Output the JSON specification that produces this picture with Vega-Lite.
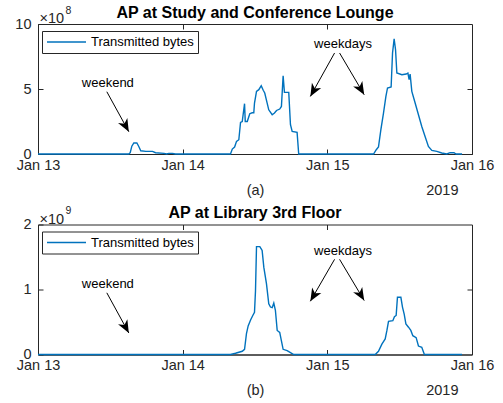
{
  "$schema": "https://vega.github.io/schema/vega-lite/v6.json",
  "padding": {"left": 14, "top": 4, "right": 5, "bottom": 5},
  "spacing": 7.5,
  "datasets": {
    "lounge": [
      {"t": "2019-01-13T00:00:00Z", "b": 0},
      {"t": "2019-01-13T15:04:00Z", "b": 0},
      {"t": "2019-01-13T15:18:00Z", "b": 10000000},
      {"t": "2019-01-13T15:34:00Z", "b": 60000000},
      {"t": "2019-01-13T15:54:00Z", "b": 85000000},
      {"t": "2019-01-13T16:24:00Z", "b": 85000000},
      {"t": "2019-01-13T16:42:00Z", "b": 60000000},
      {"t": "2019-01-13T17:03:00Z", "b": 25000000},
      {"t": "2019-01-13T17:54:00Z", "b": 20000000},
      {"t": "2019-01-13T19:00:00Z", "b": 20000000},
      {"t": "2019-01-13T19:30:00Z", "b": 10000000},
      {"t": "2019-01-13T20:54:00Z", "b": 5000000},
      {"t": "2019-01-13T21:21:00Z", "b": 0},
      {"t": "2019-01-13T21:42:00Z", "b": 5000000},
      {"t": "2019-01-13T22:18:00Z", "b": 5000000},
      {"t": "2019-01-13T22:48:00Z", "b": 0},
      {"t": "2019-01-14T07:56:00Z", "b": 0},
      {"t": "2019-01-14T08:14:00Z", "b": 38000000},
      {"t": "2019-01-14T08:37:00Z", "b": 54000000},
      {"t": "2019-01-14T08:56:00Z", "b": 97000000},
      {"t": "2019-01-14T09:19:00Z", "b": 110000000},
      {"t": "2019-01-14T09:36:00Z", "b": 243000000},
      {"t": "2019-01-14T09:53:00Z", "b": 250000000},
      {"t": "2019-01-14T10:16:00Z", "b": 387000000},
      {"t": "2019-01-14T10:23:00Z", "b": 250000000},
      {"t": "2019-01-14T10:43:00Z", "b": 250000000},
      {"t": "2019-01-14T11:08:00Z", "b": 310000000},
      {"t": "2019-01-14T11:32:00Z", "b": 317000000},
      {"t": "2019-01-14T11:48:00Z", "b": 317000000},
      {"t": "2019-01-14T11:55:00Z", "b": 392000000},
      {"t": "2019-01-14T12:15:00Z", "b": 482000000},
      {"t": "2019-01-14T12:38:00Z", "b": 495000000},
      {"t": "2019-01-14T13:02:00Z", "b": 525000000},
      {"t": "2019-01-14T13:22:00Z", "b": 490000000},
      {"t": "2019-01-14T13:37:00Z", "b": 469000000},
      {"t": "2019-01-14T14:01:00Z", "b": 392000000},
      {"t": "2019-01-14T14:17:00Z", "b": 340000000},
      {"t": "2019-01-14T14:51:00Z", "b": 302000000},
      {"t": "2019-01-14T15:14:00Z", "b": 315000000},
      {"t": "2019-01-14T15:34:00Z", "b": 335000000},
      {"t": "2019-01-14T16:06:00Z", "b": 346000000},
      {"t": "2019-01-14T16:23:00Z", "b": 366000000},
      {"t": "2019-01-14T16:40:00Z", "b": 602000000},
      {"t": "2019-01-14T16:53:00Z", "b": 474000000},
      {"t": "2019-01-14T17:36:00Z", "b": 474000000},
      {"t": "2019-01-14T17:53:00Z", "b": 225000000},
      {"t": "2019-01-14T18:10:00Z", "b": 174000000},
      {"t": "2019-01-14T18:59:00Z", "b": 166000000},
      {"t": "2019-01-14T19:15:00Z", "b": 0},
      {"t": "2019-01-15T07:40:00Z", "b": 0},
      {"t": "2019-01-15T08:07:00Z", "b": 33000000},
      {"t": "2019-01-15T08:29:00Z", "b": 54000000},
      {"t": "2019-01-15T08:53:00Z", "b": 187000000},
      {"t": "2019-01-15T09:19:00Z", "b": 315000000},
      {"t": "2019-01-15T09:43:00Z", "b": 443000000},
      {"t": "2019-01-15T09:59:00Z", "b": 508000000},
      {"t": "2019-01-15T10:35:00Z", "b": 515000000},
      {"t": "2019-01-15T10:49:00Z", "b": 777000000},
      {"t": "2019-01-15T11:05:00Z", "b": 885000000},
      {"t": "2019-01-15T11:19:00Z", "b": 802000000},
      {"t": "2019-01-15T11:32:00Z", "b": 623000000},
      {"t": "2019-01-15T12:22:00Z", "b": 610000000},
      {"t": "2019-01-15T13:05:00Z", "b": 615000000},
      {"t": "2019-01-15T13:22:00Z", "b": 623000000},
      {"t": "2019-01-15T13:34:00Z", "b": 572000000},
      {"t": "2019-01-15T13:44:00Z", "b": 615000000},
      {"t": "2019-01-15T14:01:00Z", "b": 482000000},
      {"t": "2019-01-15T14:34:00Z", "b": 392000000},
      {"t": "2019-01-15T15:07:00Z", "b": 302000000},
      {"t": "2019-01-15T15:40:00Z", "b": 212000000},
      {"t": "2019-01-15T16:13:00Z", "b": 135000000},
      {"t": "2019-01-15T16:46:00Z", "b": 58000000},
      {"t": "2019-01-15T17:20:00Z", "b": 28000000},
      {"t": "2019-01-15T18:10:00Z", "b": 20000000},
      {"t": "2019-01-15T18:59:00Z", "b": 8000000},
      {"t": "2019-01-15T19:49:00Z", "b": 0},
      {"t": "2019-01-15T20:22:00Z", "b": 10000000},
      {"t": "2019-01-15T21:01:00Z", "b": 10000000},
      {"t": "2019-01-15T21:21:00Z", "b": 0},
      {"t": "2019-01-15T22:21:00Z", "b": 0}
    ],
    "library": [
      {"t": "2019-01-13T00:00:00Z", "b": 0},
      {"t": "2019-01-14T07:56:00Z", "b": 0},
      {"t": "2019-01-14T08:46:00Z", "b": 20000000},
      {"t": "2019-01-14T09:53:00Z", "b": 50000000},
      {"t": "2019-01-14T10:16:00Z", "b": 80000000},
      {"t": "2019-01-14T10:35:00Z", "b": 320000000},
      {"t": "2019-01-14T10:52:00Z", "b": 440000000},
      {"t": "2019-01-14T11:16:00Z", "b": 530000000},
      {"t": "2019-01-14T11:38:00Z", "b": 600000000},
      {"t": "2019-01-14T11:55:00Z", "b": 650000000},
      {"t": "2019-01-14T12:05:00Z", "b": 980000000},
      {"t": "2019-01-14T12:15:00Z", "b": 1660000000},
      {"t": "2019-01-14T12:48:00Z", "b": 1660000000},
      {"t": "2019-01-14T13:11:00Z", "b": 1600000000},
      {"t": "2019-01-14T13:28:00Z", "b": 1340000000},
      {"t": "2019-01-14T13:54:00Z", "b": 1090000000},
      {"t": "2019-01-14T14:17:00Z", "b": 780000000},
      {"t": "2019-01-14T14:34:00Z", "b": 730000000},
      {"t": "2019-01-14T14:51:00Z", "b": 720000000},
      {"t": "2019-01-14T15:07:00Z", "b": 790000000},
      {"t": "2019-01-14T15:23:00Z", "b": 680000000},
      {"t": "2019-01-14T15:41:00Z", "b": 370000000},
      {"t": "2019-01-14T16:06:00Z", "b": 340000000},
      {"t": "2019-01-14T16:23:00Z", "b": 210000000},
      {"t": "2019-01-14T16:40:00Z", "b": 80000000},
      {"t": "2019-01-14T17:20:00Z", "b": 60000000},
      {"t": "2019-01-14T17:53:00Z", "b": 30000000},
      {"t": "2019-01-14T18:25:00Z", "b": 0},
      {"t": "2019-01-15T07:57:00Z", "b": 0},
      {"t": "2019-01-15T08:29:00Z", "b": 50000000},
      {"t": "2019-01-15T09:03:00Z", "b": 160000000},
      {"t": "2019-01-15T09:36:00Z", "b": 240000000},
      {"t": "2019-01-15T09:53:00Z", "b": 370000000},
      {"t": "2019-01-15T10:09:00Z", "b": 510000000},
      {"t": "2019-01-15T10:52:00Z", "b": 520000000},
      {"t": "2019-01-15T11:08:00Z", "b": 580000000},
      {"t": "2019-01-15T11:25:00Z", "b": 600000000},
      {"t": "2019-01-15T11:38:00Z", "b": 880000000},
      {"t": "2019-01-15T12:12:00Z", "b": 880000000},
      {"t": "2019-01-15T12:28:00Z", "b": 730000000},
      {"t": "2019-01-15T12:45:00Z", "b": 620000000},
      {"t": "2019-01-15T13:02:00Z", "b": 470000000},
      {"t": "2019-01-15T13:28:00Z", "b": 420000000},
      {"t": "2019-01-15T13:51:00Z", "b": 370000000},
      {"t": "2019-01-15T14:11:00Z", "b": 290000000},
      {"t": "2019-01-15T14:44:00Z", "b": 260000000},
      {"t": "2019-01-15T15:07:00Z", "b": 130000000},
      {"t": "2019-01-15T15:40:00Z", "b": 110000000},
      {"t": "2019-01-15T16:06:00Z", "b": 0},
      {"t": "2019-01-15T22:21:00Z", "b": 0}
    ],
    "labels_a": [
      {"label": "weekend", "t": "2019-01-13T11:35:00Z", "v": 548000000},
      {"label": "weekdays", "t": "2019-01-15T02:36:00Z", "v": 846000000}
    ],
    "labels_b": [
      {"label": "weekend", "t": "2019-01-13T11:35:00Z", "v": 1088000000},
      {"label": "weekdays", "t": "2019-01-15T02:36:00Z", "v": 1592000000}
    ],
    "arrows_a": [
      {"t0": "2019-01-13T11:25:00Z", "v0": 479000000, "t1": "2019-01-13T15:04:00Z", "v1": 171500000},
      {"t0": "2019-01-15T01:12:00Z", "v0": 777000000, "t1": "2019-01-14T21:11:00Z", "v1": 443000000},
      {"t0": "2019-01-15T02:02:00Z", "v0": 777000000, "t1": "2019-01-15T06:07:00Z", "v1": 456000000}
    ],
    "arrows_b": [
      {"t0": "2019-01-13T11:25:00Z", "v0": 949000000, "t1": "2019-01-13T15:04:00Z", "v1": 331000000},
      {"t0": "2019-01-15T01:12:00Z", "v0": 1464000000, "t1": "2019-01-14T21:11:00Z", "v1": 819000000},
      {"t0": "2019-01-15T02:02:00Z", "v0": 1464000000, "t1": "2019-01-15T06:07:00Z", "v1": 830000000}
    ]
  },
  "resolve": {"scale": {"color": "independent"}, "legend": {"color": "independent"}},
  "vconcat": [
    {
      "title": {"text": "AP at Study and Conference Lounge", "frame": "group", "offset": -15.5},
      "width": 434,
      "height": 130,
      "resolve": {"axis": {"x": "independent", "y": "independent"}},
      "layer": [
        {
          "data": {"name": "lounge"},
          "mark": {"type": "line", "color": "#0072BD", "strokeWidth": 1.4},
          "encoding": {
            "x": {"field": "t", "type": "temporal",
              "scale": {"type": "utc", "domain": [{"year": 2019, "month": 1, "date": 13, "utc": true}, {"year": 2019, "month": 1, "date": 16, "utc": true}]},
              "axis": {"values": [{"year": 2019, "month": 1, "date": 13, "utc": true}, {"year": 2019, "month": 1, "date": 14, "utc": true}, {"year": 2019, "month": 1, "date": 15, "utc": true}, {"year": 2019, "month": 1, "date": 16, "utc": true}],
                "format": "%b %d", "labelPadding": 9, "title": "(a)", "titleY": 40, "titleBaseline": "alphabetic"}},
            "y": {"field": "b", "type": "quantitative",
              "scale": {"domain": [0, 1000000000], "nice": false},
              "axis": {"values": [0, 500000000, 1000000000], "labelExpr": "format(datum.value / 1e8, 'd')",
                "title": "×10", "titleAngle": 0, "titleAlign": "left", "titleBaseline": "alphabetic", "titleX": 1, "titleY": -1.5, "titleFontSize": 14.5}},
            "color": {"datum": "Transmitted bytes", "type": "nominal", "scale": {"range": ["#0072BD"]},
              "legend": {"title": null, "orient": "none", "legendX": 4, "legendY": 7}}
          }
        },
        {
          "data": {"name": "arrows_a"},
          "mark": {"type": "rule", "color": "#000", "strokeWidth": 1},
          "encoding": {
            "x": {"field": "t0", "type": "temporal", "axis": null},
            "y": {"field": "v0", "type": "quantitative", "axis": null},
            "x2": {"field": "t1"},
            "y2": {"field": "v1"}
          }
        },
        {
          "data": {"name": "arrows_a"},
          "transform": [
            {"calculate": "atan2((toDate(datum.t1) - toDate(datum.t0)) / 3600000 * 434 / 72, (datum.v1 - datum.v0) * 130 / 1e9) * 180 / PI", "as": "heading"}
          ],
          "mark": {"type": "point", "shape": "M0,0L0.75,1.8L0,1.3L-0.75,1.8Z", "filled": true, "color": "#000", "opacity": 1, "size": 200},
          "encoding": {
            "x": {"field": "t1", "type": "temporal", "axis": null},
            "y": {"field": "v1", "type": "quantitative", "axis": null},
            "angle": {"field": "heading", "type": "quantitative", "scale": null}
          }
        },
        {
          "data": {"name": "labels_a"},
          "mark": {"type": "text", "fontSize": 13, "color": "#000", "baseline": "middle", "align": "center"},
          "encoding": {
            "x": {"field": "t", "type": "temporal",
              "axis": {"orient": "top", "values": [{"year": 2019, "month": 1, "date": 14, "utc": true}, {"year": 2019, "month": 1, "date": 15, "utc": true}], "labels": false, "domain": false,
                "title": "8", "titleFontSize": 10.5, "titleAnchor": null, "titleAlign": "left", "titleBaseline": "alphabetic", "titleX": 27, "titleY": -11}},
            "y": {"field": "v", "type": "quantitative",
              "axis": {"orient": "right", "values": [500000000], "labels": false, "domain": false,
                "title": "2019", "titleAngle": 0, "titleAlign": "right", "titleBaseline": "alphabetic", "titleX": -14, "titleY": 170}},
            "text": {"field": "label"}
          }
        }
      ]
    },
    {
      "title": {"text": "AP at Library 3rd Floor", "frame": "group", "offset": -15.5},
      "width": 434,
      "height": 130,
      "resolve": {"axis": {"x": "independent", "y": "independent"}},
      "layer": [
        {
          "data": {"name": "library"},
          "mark": {"type": "line", "color": "#0072BD", "strokeWidth": 1.4},
          "encoding": {
            "x": {"field": "t", "type": "temporal",
              "scale": {"type": "utc", "domain": [{"year": 2019, "month": 1, "date": 13, "utc": true}, {"year": 2019, "month": 1, "date": 16, "utc": true}]},
              "axis": {"values": [{"year": 2019, "month": 1, "date": 13, "utc": true}, {"year": 2019, "month": 1, "date": 14, "utc": true}, {"year": 2019, "month": 1, "date": 15, "utc": true}, {"year": 2019, "month": 1, "date": 16, "utc": true}],
                "format": "%b %d", "labelPadding": 9, "title": "(b)", "titleY": 40, "titleBaseline": "alphabetic"}},
            "y": {"field": "b", "type": "quantitative",
              "scale": {"domain": [0, 2000000000], "nice": false},
              "axis": {"values": [0, 1000000000, 2000000000], "labelExpr": "format(datum.value / 1e9, 'd')",
                "title": "×10", "titleAngle": 0, "titleAlign": "left", "titleBaseline": "alphabetic", "titleX": 1, "titleY": -1.5, "titleFontSize": 14.5}},
            "color": {"datum": "Transmitted bytes", "type": "nominal", "scale": {"range": ["#0072BD"]},
              "legend": {"title": null, "orient": "none", "legendX": 4, "legendY": 7}}
          }
        },
        {
          "data": {"name": "arrows_b"},
          "mark": {"type": "rule", "color": "#000", "strokeWidth": 1},
          "encoding": {
            "x": {"field": "t0", "type": "temporal", "axis": null},
            "y": {"field": "v0", "type": "quantitative", "axis": null},
            "x2": {"field": "t1"},
            "y2": {"field": "v1"}
          }
        },
        {
          "data": {"name": "arrows_b"},
          "transform": [
            {"calculate": "atan2((toDate(datum.t1) - toDate(datum.t0)) / 3600000 * 434 / 72, (datum.v1 - datum.v0) * 130 / 2e9) * 180 / PI", "as": "heading"}
          ],
          "mark": {"type": "point", "shape": "M0,0L0.75,1.8L0,1.3L-0.75,1.8Z", "filled": true, "color": "#000", "opacity": 1, "size": 200},
          "encoding": {
            "x": {"field": "t1", "type": "temporal", "axis": null},
            "y": {"field": "v1", "type": "quantitative", "axis": null},
            "angle": {"field": "heading", "type": "quantitative", "scale": null}
          }
        },
        {
          "data": {"name": "labels_b"},
          "mark": {"type": "text", "fontSize": 13, "color": "#000", "baseline": "middle", "align": "center"},
          "encoding": {
            "x": {"field": "t", "type": "temporal",
              "axis": {"orient": "top", "values": [{"year": 2019, "month": 1, "date": 14, "utc": true}, {"year": 2019, "month": 1, "date": 15, "utc": true}], "labels": false, "domain": false,
                "title": "9", "titleFontSize": 10.5, "titleAnchor": null, "titleAlign": "left", "titleBaseline": "alphabetic", "titleX": 27, "titleY": -11}},
            "y": {"field": "v", "type": "quantitative",
              "axis": {"orient": "right", "values": [1000000000], "labels": false, "domain": false,
                "title": "2019", "titleAngle": 0, "titleAlign": "right", "titleBaseline": "alphabetic", "titleX": -14, "titleY": 170}},
            "text": {"field": "label"}
          }
        }
      ]
    }
  ],
  "config": {
    "font": "Liberation Sans",
    "view": {"stroke": "#262626", "strokeWidth": 1},
    "axis": {
      "grid": false, "domainColor": "#262626", "tickColor": "#262626", "labelColor": "#262626",
      "labelFontSize": 14.5, "titleFontSize": 14.5, "titleFontWeight": "normal", "titleColor": "#262626",
      "tickSize": -5, "labelPadding": 12, "labelFlush": false, "labelOverlap": false, "labelBound": false
    },
    "axisY": {"labelBaseline": "middle"},
    "title": {"fontSize": 16, "fontWeight": "bold", "color": "#000", "anchor": "middle", "baseline": "alphabetic"},
    "legend": {
      "symbolType": "M-1,0H5.5", "symbolSize": 144, "symbolStrokeWidth": 1.5, "labelFontSize": 13,
      "labelColor": "#000", "strokeColor": "#262626", "fillColor": "#ffffff", "padding": 4, "labelOffset": 31
    }
  }
}
